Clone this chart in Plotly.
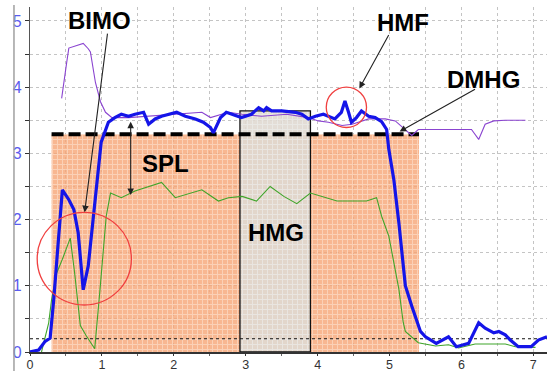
import plotly.graph_objects as go

# ---- series data (time axis vs. level) ----
blue_x = [0.00, 0.12, 0.21, 0.28, 0.33, 0.40, 0.45, 0.54, 0.61, 0.67, 0.74, 0.81, 0.91, 0.99,
          1.09, 1.18, 1.27, 1.37, 1.46, 1.58, 1.65, 1.74, 1.83, 1.93, 2.04, 2.16, 2.30, 2.41,
          2.51, 2.55, 2.65, 2.73, 2.94, 3.08, 3.18, 3.25, 3.29, 3.36, 3.50, 3.69, 3.78, 3.87,
          3.97, 4.08, 4.24, 4.33, 4.38, 4.43, 4.47, 4.54, 4.61, 4.71, 4.80, 4.89, 4.96, 4.99,
          5.06, 5.13, 5.17, 5.22, 5.31, 5.43, 5.50, 5.65, 5.82, 5.93, 6.10, 6.24, 6.33, 6.45,
          6.52, 6.61, 6.68, 6.79, 6.97, 7.07, 7.19]
blue_y = [0.00, 0.03, 0.16, 0.21, 0.79, 1.80, 2.45, 2.30, 2.15, 1.80, 0.94, 1.30, 2.40, 3.17,
          3.47, 3.54, 3.59, 3.56, 3.59, 3.62, 3.44, 3.52, 3.56, 3.59, 3.62, 3.56, 3.52, 3.47,
          3.39, 3.31, 3.54, 3.62, 3.54, 3.59, 3.69, 3.64, 3.69, 3.64, 3.64, 3.62, 3.59, 3.52,
          3.56, 3.59, 3.52, 3.62, 3.79, 3.62, 3.47, 3.54, 3.64, 3.56, 3.54, 3.48, 3.36, 3.06,
          2.60, 1.95, 1.55, 1.00, 0.69, 0.31, 0.23, 0.13, 0.23, 0.08, 0.13, 0.44, 0.36, 0.29,
          0.31, 0.26, 0.18, 0.08, 0.08, 0.18, 0.23]

green_x = [0.16, 0.26, 0.30, 0.37, 0.45, 0.54, 0.56, 0.62, 0.70, 0.78, 0.90, 0.97, 1.06, 1.12,
           1.27, 1.46, 1.83, 2.02, 2.39, 2.62, 2.76, 2.95, 3.15, 3.34, 3.53, 3.71, 3.90, 4.27,
           4.68, 4.82, 4.89, 4.99, 5.06, 5.13, 5.19, 5.22, 5.40, 5.64, 5.82, 5.96, 6.19, 6.61,
           6.75, 7.03]
green_y = [0.00, 0.44, 0.79, 1.19, 1.40, 1.68, 1.72, 1.20, 0.40, 0.25, 0.05, 0.90, 2.05, 2.40,
           2.33, 2.43, 2.56, 2.33, 2.45, 2.28, 2.33, 2.35, 2.28, 2.50, 2.35, 2.24, 2.40, 2.28,
           2.28, 2.33, 2.05, 1.75, 1.35, 0.95, 0.45, 0.31, 0.14, 0.09, 0.11, 0.06, 0.12, 0.12,
           0.08, 0.07]

purple_x = [0.44, 0.48, 0.51, 0.54, 0.67, 0.74, 0.81, 0.84, 0.91, 0.98, 1.05, 1.14, 1.37, 1.74,
            2.07, 2.39, 2.51, 2.65, 2.76, 2.95, 3.22, 3.57, 3.87, 4.01, 4.15, 4.34, 4.48, 4.71,
            4.94, 5.08, 5.19, 5.31, 5.40, 6.14, 6.24, 6.33, 6.45, 6.61, 6.89]
purple_y = [3.83, 4.10, 4.37, 4.59, 4.64, 4.66, 4.58, 4.53, 4.07, 3.78, 3.62, 3.54, 3.54, 3.57,
            3.59, 3.62, 3.54, 3.59, 3.62, 3.59, 3.56, 3.59, 3.54, 3.49, 3.47, 3.42, 3.44, 3.52,
            3.52, 3.49, 3.38, 3.27, 3.36, 3.36, 3.21, 3.44, 3.49, 3.50, 3.50]

# plateau (shaded region) and reference levels
plateau_x = [0.30, 5.41]
dmhg_level = 3.29
hmg_x = [2.92, 3.90]
hmg_top = 3.64
baseline_level = 0.20
x_max = 7.19
y_max = 5.21

x_ticks = [0, 1, 2, 3, 4, 5, 6, 7]
y_ticks = [0, 1, 2, 3, 4, 5]

fig = go.Figure()

# shaded plateau region
fig.add_trace(go.Scatter(
    x=plateau_x, y=[dmhg_level, dmhg_level], mode="lines", line=dict(width=0),
    fill="tozeroy", fillcolor="rgba(246,165,118,0.8)",
    fillpattern=dict(shape="+", bgcolor="rgba(246,165,118,0.8)", fgcolor="rgba(255,240,228,0.9)",
                     size=5, solidity=0.35),
    hoverinfo="skip"))

# HMG window
fig.add_trace(go.Scatter(
    x=[hmg_x[0], hmg_x[0], hmg_x[1], hmg_x[1], hmg_x[0]],
    y=[0, hmg_top, hmg_top, 0, 0], mode="lines", line=dict(color="#111111", width=1.3),
    fill="toself", fillcolor="rgba(222,218,212,0.9)",
    fillpattern=dict(shape="+", bgcolor="rgba(224,218,210,0.9)", fgcolor="rgba(240,244,246,0.9)",
                     size=5, solidity=0.35),
    hoverinfo="skip"))

# baseline dotted level
fig.add_trace(go.Scatter(x=[0, x_max], y=[baseline_level, baseline_level], mode="lines",
                         line=dict(color="#111111", width=1.2, dash="dot")))

# DMHG dashed level
fig.add_trace(go.Scatter(x=plateau_x, y=[dmhg_level, dmhg_level], mode="lines",
                         line=dict(color="#000000", width=4, dash="12px,5px")))

fig.add_trace(go.Scatter(x=green_x, y=green_y, mode="lines", line=dict(color="#3fa52a", width=1.1)))
fig.add_trace(go.Scatter(x=purple_x, y=purple_y, mode="lines", line=dict(color="#8a44d0", width=1.1)))
fig.add_trace(go.Scatter(x=blue_x, y=blue_y, mode="lines", line=dict(color="#1515e8", width=3.2)))

lab_font = dict(family="Liberation Sans, Arial, sans-serif", size=24, color="#000000")
annos = [
    dict(x=0.96, y=5.0, text="<b>BIMO</b>", showarrow=False, font=lab_font),
    dict(x=5.19, y=4.97, text="<b>HMF</b>", showarrow=False, font=lab_font),
    dict(x=6.31, y=4.12, text="<b>DMHG</b>", showarrow=False, font=lab_font),
    dict(x=1.88, y=2.85, text="<b>SPL</b>", showarrow=False, font=lab_font),
    dict(x=3.42, y=1.80, text="<b>HMG</b>", showarrow=False, font=lab_font),
]
arrow_style = dict(text="", showarrow=True, arrowhead=2, arrowsize=1.2, arrowwidth=1.1,
                   arrowcolor="#222222", axref="x", ayref="y", standoff=0, startstandoff=0)
annos += [
    dict(x=0.76, y=2.11, ax=1.08, ay=4.83, **arrow_style),
    dict(x=4.58, y=3.98, ax=5.00, ay=4.81, **arrow_style),
    dict(x=5.14, y=3.33, ax=6.21, ay=3.98, **arrow_style),
    dict(x=1.40, y=2.37, ax=1.40, ay=3.50, arrowside="end+start", **arrow_style),
]

shapes = [
    dict(type="circle", xref="x", yref="y", x0=0.10, x1=1.41, y0=0.71, y1=2.11,
         line=dict(color="#f04040", width=1.3)),
    dict(type="circle", xref="x", yref="y", x0=4.12, x1=4.68, y0=3.39, y1=4.00,
         line=dict(color="#f04040", width=1.3)),
    # outer frame line on the left
    dict(type="line", xref="paper", yref="paper", x0=-0.031, x1=-0.031, y0=-0.06, y1=1.006,
         line=dict(color="#a0a0a0", width=1.5)),
]

grid_style = dict(showgrid=True, gridcolor="#c4c4c4", griddash="dot", gridwidth=1)

fig.update_layout(
    width=547, height=371,
    margin=dict(l=30, r=0, t=7, b=19),
    paper_bgcolor="white", plot_bgcolor="white",
    showlegend=False,
    annotations=annos, shapes=shapes,
    xaxis=dict(range=[0, x_max], tickvals=x_ticks, ticktext=[str(v) for v in x_ticks],
               ticks="outside", ticklen=2, tickcolor="#333", showline=True, linecolor="#333333",
               linewidth=1.5, zeroline=False, automargin=False, ticklabelstandoff=-2,
               tickfont=dict(family="Liberation Sans, Arial, sans-serif", size=12.5, color="#333333"),
               minor=dict(dtick=0.5, showgrid=True, gridcolor="#c4c4c4", griddash="dot",
                          ticks="outside", ticklen=2, tickcolor="#666"),
               **grid_style),
    yaxis=dict(range=[0, y_max], tickvals=y_ticks, ticktext=[str(v) for v in y_ticks],
               ticks="outside", ticklen=4, tickcolor="#333", showline=True, linecolor="#555555",
               linewidth=1.2, zeroline=False, automargin=False,
               tickfont=dict(family="Liberation Sans, Arial, sans-serif", size=16, color="#5a5af0"),
               minor=dict(dtick=0.5, showgrid=True, gridcolor="#c4c4c4", griddash="dot",
                          ticks="outside", ticklen=4, tickcolor="#333"),
               **grid_style),
)

fig.write_html("out.html")
